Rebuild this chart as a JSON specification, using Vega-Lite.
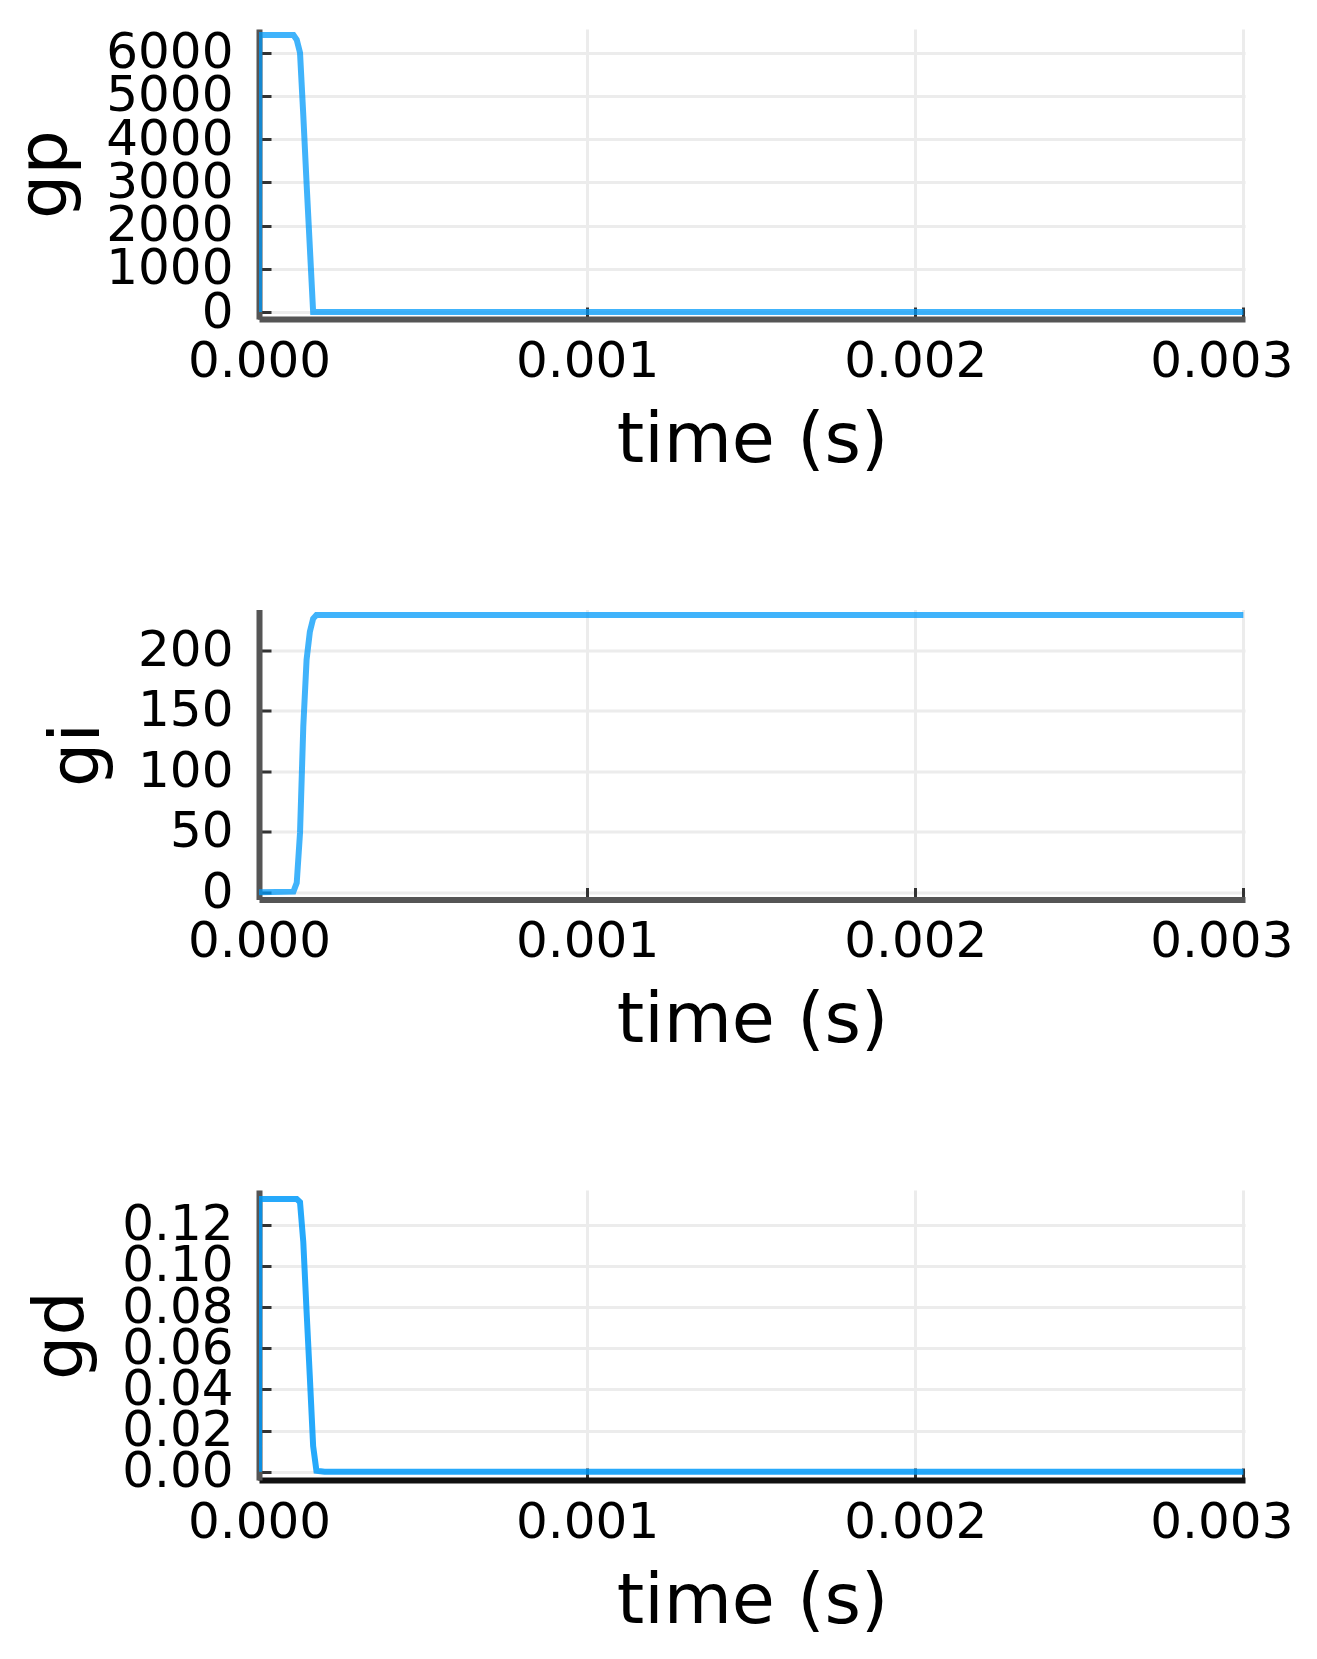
{
  "$schema": "https://vega.github.io/schema/vega-lite/v6.json",
  "padding": {"left": 10, "top": 27, "right": 5, "bottom": 5},
  "background": "white",
  "config": {
    "view": {"stroke": null},
    "font": "DejaVu Sans",
    "axis": {
      "labelFont": "DejaVu Sans", "labelFontSize": 50, "labelColor": "#000",
      "titleFont": "DejaVu Sans", "titleFontSize": 70, "titleFontWeight": "normal", "titleColor": "#000",
      "domainColor": "#555", "domainWidth": 6,
      "tickColor": "#333", "tickWidth": 3, "tickSize": -12,
      "gridColor": "#ececec", "gridWidth": 3,
      "labelOverlap": false
    },
    "axisX": {"labelPadding": 29, "titlePadding": 20, "labelFlush": false},
    "axisY": {"labelPadding": 38, "titlePadding": 24}
  },
  "data": {"values": [
    {"t": 0, "gp": 0, "gi": 0, "gd": 0},
    {"t": 0.000001, "gp": 6411, "gi": 0, "gd": 0.1325},
    {"t": 0.000105, "gp": 6411, "gi": 0.5, "gd": 0.1325},
    {"t": 0.000115, "gp": 6300, "gi": 7.7, "gd": 0.1325},
    {"t": 0.000125, "gp": 6000, "gi": 49, "gd": 0.131},
    {"t": 0.000135, "gp": 4550, "gi": 137, "gd": 0.1116},
    {"t": 0.000145, "gp": 2980, "gi": 192, "gd": 0.0779},
    {"t": 0.000155, "gp": 1490, "gi": 215, "gd": 0.0458},
    {"t": 0.000165, "gp": 0, "gi": 226, "gd": 0.0125},
    {"t": 0.000175, "gp": 0, "gi": 229, "gd": 0.0005},
    {"t": 0.0002, "gp": 0, "gi": 229, "gd": 0},
    {"t": 0.0005, "gp": 0, "gi": 229, "gd": 0},
    {"t": 0.001, "gp": 0, "gi": 229, "gd": 0},
    {"t": 0.0015, "gp": 0, "gi": 229, "gd": 0},
    {"t": 0.002, "gp": 0, "gi": 229, "gd": 0},
    {"t": 0.0025, "gp": 0, "gi": 229, "gd": 0},
    {"t": 0.003, "gp": 0, "gi": 229, "gd": 0}
  ]},
  "bounds": "flush",
  "spacing": 290.5,
  "vconcat": [
    {
      "width": 986, "height": 290,
      "mark": {"type": "line", "color": "#009AFA", "strokeWidth": 6, "opacity": 0.75, "clip": true},
      "encoding": {
        "x": {"field": "t", "type": "quantitative",
              "scale": {"domain": [0, 0.003005], "nice": false, "zero": false},
              "axis": {"title": "time (s)", "values": [0, 0.001, 0.002, 0.003], "format": ".3f",
                       "labelOffset": {"condition": {"test": "datum.value > 0.0029", "value": -22}, "value": 0}}},
        "y": {"field": "gp", "type": "quantitative",
              "scale": {"domain": [-160, 6550], "nice": false, "zero": false},
              "axis": {"title": "gp", "values": [0, 1000, 2000, 3000, 4000, 5000, 6000], "format": "d"}}
      }
    },
    {
      "width": 986, "height": 290,
      "mark": {"type": "line", "color": "#009AFA", "strokeWidth": 6, "opacity": 0.75, "clip": true},
      "encoding": {
        "x": {"field": "t", "type": "quantitative",
              "scale": {"domain": [0, 0.003005], "nice": false, "zero": false},
              "axis": {"title": "time (s)", "values": [0, 0.001, 0.002, 0.003], "format": ".3f",
                       "labelOffset": {"condition": {"test": "datum.value > 0.0029", "value": -22}, "value": 0}}},
        "y": {"field": "gi", "type": "quantitative",
              "scale": {"domain": [-6, 233.5], "nice": false, "zero": false},
              "axis": {"title": "gi", "values": [0, 50, 100, 150, 200], "format": "d"}}
      }
    },
    {
      "width": 986, "height": 290,
      "mark": {"type": "line", "color": "#009AFA", "strokeWidth": 6, "opacity": 0.85, "clip": true},
      "encoding": {
        "x": {"field": "t", "type": "quantitative",
              "scale": {"domain": [0, 0.003005], "nice": false, "zero": false},
              "axis": {"title": "time (s)", "values": [0, 0.001, 0.002, 0.003], "format": ".3f", "domainColor": "#111",
                       "labelOffset": {"condition": {"test": "datum.value > 0.0029", "value": -22}, "value": 0}}},
        "y": {"field": "gd", "type": "quantitative",
              "scale": {"domain": [-0.004, 0.1369], "nice": false, "zero": false},
              "axis": {"title": "gd", "values": [0, 0.02, 0.04, 0.06, 0.08, 0.10, 0.12], "format": ".2f"}}
      }
    }
  ]
}
